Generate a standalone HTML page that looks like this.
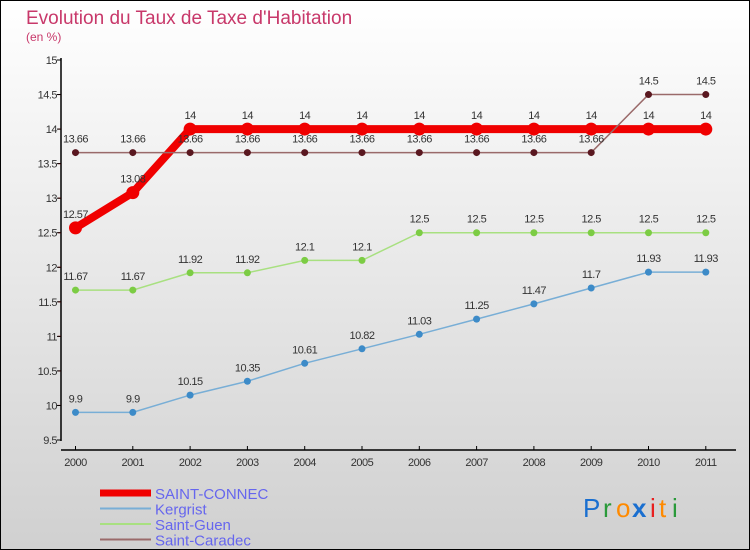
<!DOCTYPE html>
<html><head><meta charset="utf-8"><style>
body{margin:0}
#c{width:750px;height:550px;position:relative;overflow:hidden}
</style></head><body>
<div id="c">
<svg id="s" width="750" height="550" xmlns="http://www.w3.org/2000/svg">
<defs><linearGradient id="bg" x1="0" y1="0" x2="0" y2="1"><stop offset="0" stop-color="#ffffff"/><stop offset="1" stop-color="#d0d0d0"/></linearGradient></defs>
<rect x="0.5" y="0.5" width="749" height="549" fill="url(#bg)" stroke="#000"/>
<text x="26" y="24" font-family="Liberation Sans, sans-serif" font-size="19" fill="#c8386a">Evolution du Taux de Taxe d'Habitation</text>
<text x="26" y="41" font-family="Liberation Sans, sans-serif" font-size="12" fill="#c8386a">(en %)</text>
<g id="axes"></g><g id="series"></g><g id="legend"></g>
<g font-family="Liberation Sans, sans-serif" font-size="26">
<text x="583" y="517" fill="#1a6fd0">P</text><text x="603" y="517" fill="#2a9a3a">r</text><text x="616" y="517" fill="#ff8a00">o</text><text x="632" y="517" fill="#1a6fd0" font-weight="bold">x</text><text x="650" y="517" fill="#e82020">i</text><text x="659" y="517" fill="#ff8a00">t</text><text x="672" y="517" fill="#2a9a3a">i</text>
</g>
</svg>
</div>
<script>
const years=["2000","2001","2002","2003","2004","2005","2006","2007","2008","2009","2010","2011"];
const yTicks=[9.5,10,10.5,11,11.5,12,12.5,13,13.5,14,14.5,15];
const saintConnec=[12.57,13.08,14,14,14,14,14,14,14,14,14,14];
const kergrist=[9.9,9.9,10.15,10.35,10.61,10.82,11.03,11.25,11.47,11.7,11.93,11.93];
const saintGuen=[11.67,11.67,11.92,11.92,12.1,12.1,12.5,12.5,12.5,12.5,12.5,12.5];
const saintCaradec=[13.66,13.66,13.66,13.66,13.66,13.66,13.66,13.66,13.66,13.66,14.5,14.5];
const NS="http://www.w3.org/2000/svg";
const X=i=>75.5+i*57.3;
const Y=v=>440-(v-9.5)*(380/5.5);
function mk(tag,attrs,parent,txt){const e=document.createElementNS(NS,tag);for(const k in attrs)e.setAttribute(k,attrs[k]);if(txt!==undefined)e.textContent=txt;parent.appendChild(e);return e;}
const ax=document.getElementById('axes');
let e=mk('line',{x1:61,y1:58,x2:61,y2:441,stroke:'#000','stroke-width':1.5},ax);

e=mk('line',{x1:61,y1:450,x2:736,y2:450,stroke:'#000','stroke-width':1.5},ax);

yTicks.forEach((t,i)=>{const y=Y(t);
 mk('line',{x1:57,y1:y,x2:61,y2:y,stroke:'#000'},ax);
 if(i<yTicks.length-1)mk('line',{x1:58,y1:y-190/5.5,x2:61,y2:y-190/5.5,stroke:'#e00'},ax);
 e=mk('text',{x:57,y:y+4,'text-anchor':'end','font-family':'Liberation Sans, sans-serif','font-size':11,fill:'#333','letter-spacing':'-0.5'},ax,String(t));
 });
years.forEach((yr,i)=>{const x=X(i);
 mk('line',{x1:x,y1:446,x2:x,y2:450,stroke:'#000'},ax);
 e=mk('text',{x:x,y:466,'text-anchor':'middle','font-family':'Liberation Sans, sans-serif','font-size':11,fill:'#333','letter-spacing':'-0.5'},ax,yr);
 });
const sg=document.getElementById('series');
function series(name,vals,color,w,r,dot){
 const g=mk('g',{},sg);
 mk('polyline',{points:vals.map((v,i)=>X(i)+','+Y(v)).join(' '),fill:'none',stroke:color,'stroke-width':w},g);
 vals.forEach((v,i)=>{const c=mk('circle',{cx:X(i),cy:Y(v),r:r,fill:dot},g);
  
  const t=mk('text',{x:X(i),y:Y(v)-10,'text-anchor':'middle','font-family':'Liberation Sans, sans-serif','font-size':11,fill:'#333','letter-spacing':'-0.5'},g,String(v));
  });
}
series('series-saint-connec',saintConnec,'#f00000',8,6.5,'#f00000');
series('series-kergrist',kergrist,'#78aed6',1.5,3.5,'#3d8bc8');
series('series-saint-guen',saintGuen,'#a8e080',1.5,3.5,'#7ccc44');
series('series-saint-caradec',saintCaradec,'#9a6a6a',1.5,3.5,'#5a1820');
const lg=document.getElementById('legend');
[['SAINT-CONNEC','#f00000',7],['Kergrist','#78aed6',2],['Saint-Guen','#a8e080',2],['Saint-Caradec','#9a6a6a',2]].forEach((d,i)=>{
 const y=493+i*15.5;const g=mk('g',{},lg);
 mk('line',{x1:100,y1:y,x2:151,y2:y,stroke:d[1],'stroke-width':d[2]},g);
 mk('text',{x:155,y:y+6,'font-family':'Liberation Sans, sans-serif','font-size':15,fill:'#6666ee'},g,d[0]);});
</script>
</body></html>
